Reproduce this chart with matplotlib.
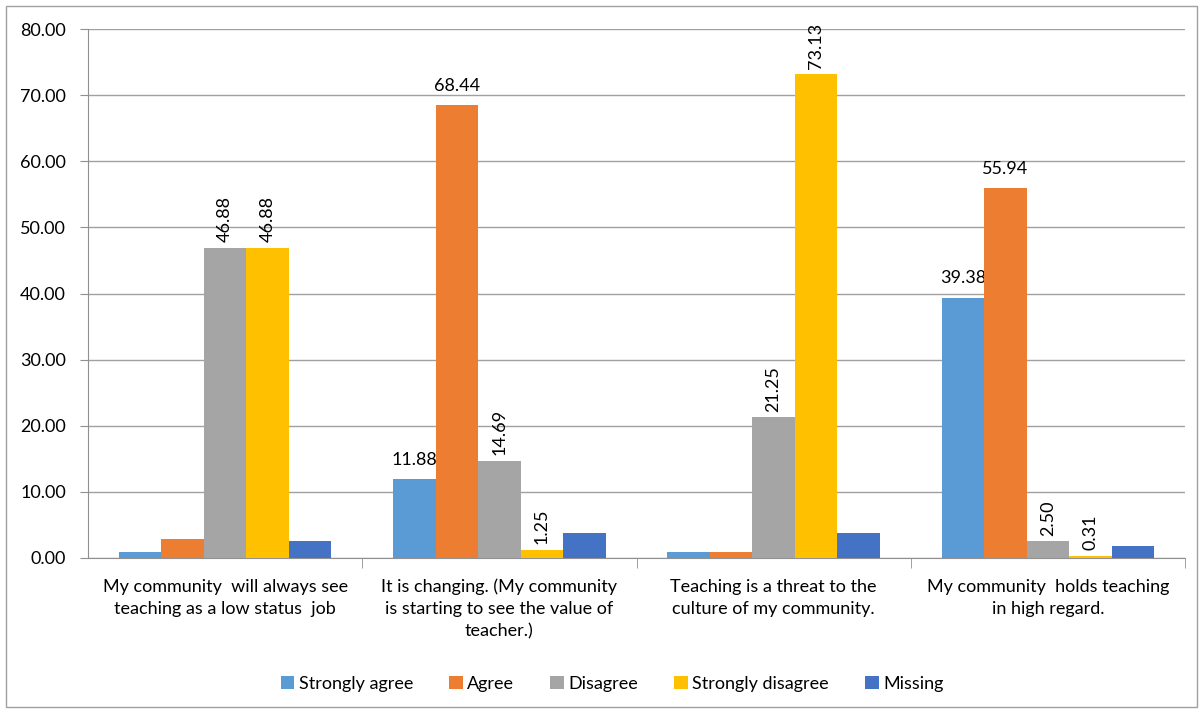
import numpy as np
import matplotlib
matplotlib.use('Agg')
import matplotlib.pyplot as plt
from matplotlib.patches import Rectangle

categories = ["My community  will always see\nteaching as a low status  job",
              "It is changing. (My community\nis starting to see the value of\nteacher.)",
              "Teaching is a threat to the\nculture of my community.",
              "My community  holds teaching\nin high regard."]
series = ["Strongly agree", "Agree", "Disagree", "Strongly disagree", "Missing"]
strongly_agree = [0.94, 11.88, 0.94, 39.38]
agree = [2.81, 68.44, 0.94, 55.94]
disagree = [46.88, 14.69, 21.25, 2.50]
strongly_disagree = [46.88, 1.25, 73.13, 0.31]
missing = [2.50, 3.75, 3.75, 1.88]
yticks = [0, 10, 20, 30, 40, 50, 60, 70, 80]

colors = ['#5B9BD5', '#ED7D31', '#A5A5A5', '#FFC000', '#4472C4']
values = [strongly_agree, agree, disagree, strongly_disagree, missing]
# which bars get a label, and whether it is rotated
label_mode = [
    [None, 'h', None, 'h'],
    [None, 'h', None, 'h'],
    ['v', 'v', 'v', 'v'],
    ['v', 'v', 'v', 'v'],
    [None, None, None, None],
]

fs = 13
plt.rcParams['font.family'] = ['Lato', 'DejaVu Sans']
fig = plt.figure(figsize=(12.03, 7.13), dpi=100)
W, H = 1203, 713
ax = fig.add_axes([88 / W, 1 - 558 / H, (1185 - 88) / W, (558 - 29) / H])

x = np.arange(len(categories))
bw = 0.155
for i, (name, vals) in enumerate(zip(series, values)):
    pos = x + (i - 2) * bw
    ax.bar(pos, vals, bw, color=colors[i], label=name, zorder=3)
    for j, v in enumerate(vals):
        m = label_mode[i][j]
        if m == 'h':
            ax.annotate(f"{v:.2f}", (pos[j], v), xytext=(0, 8), textcoords='offset points',
                        ha='center', va='bottom', fontsize=fs)
        elif m == 'v':
            ax.annotate(f"{v:.2f}", (pos[j], v), xytext=(0, 4), textcoords='offset points',
                        ha='center', va='bottom', rotation=90, fontsize=fs)

ax.set_xlim(-0.5, 3.5)
ax.set_ylim(0, 80)
ax.set_yticks(yticks)
ax.set_yticklabels([f"{t:.2f}" for t in yticks], fontsize=fs)
ax.yaxis.grid(True, color='#A0A0A0', linewidth=1, zorder=0)
ax.set_xticks(x)
ax.set_xticklabels(categories, fontsize=fs, linespacing=1.45)
ax.set_xticks([0.5, 1.5, 2.5, 3.5], minor=True)
ax.tick_params(axis='x', which='major', length=0, pad=15)
ax.tick_params(axis='x', which='minor', length=7, color='#909090', direction='out')
ax.tick_params(axis='y', length=6, color='#909090', direction='out', pad=10)
for s in ['top', 'right']:
    ax.spines[s].set_visible(False)
for s in ['left', 'bottom']:
    ax.spines[s].set_color('#909090')

ax.legend(loc='center', bbox_to_anchor=(612 / W, 1 - 684 / H), bbox_transform=fig.transFigure,
          ncol=5, frameon=False, fontsize=fs, handlelength=0.75, handleheight=0.75,
          handletextpad=0.25, columnspacing=2.0)

fig.patches.append(Rectangle((6 / W, 6 / H), 1191 / W, 701 / H, transform=fig.transFigure,
                             fill=False, edgecolor='#A0A0A0', linewidth=1))

fig.savefig('out.png', dpi=100)
